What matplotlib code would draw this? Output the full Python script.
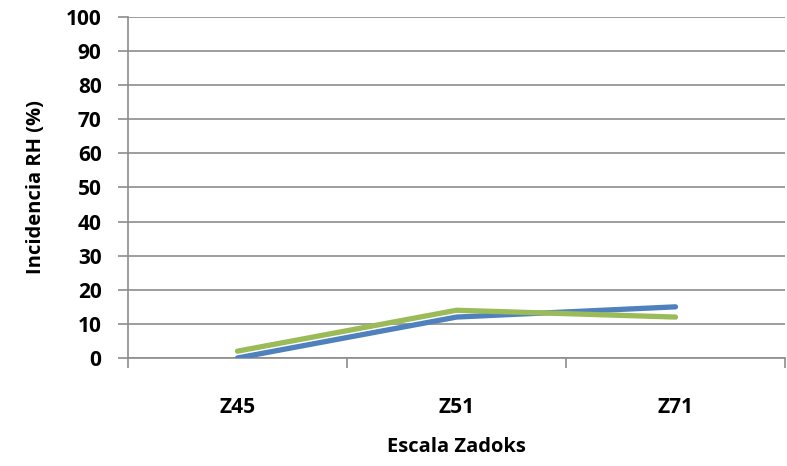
import numpy as np
import matplotlib.pyplot as plt

categories = ["Z45", "Z51", "Z71"]
serie_azul = [0, 12, 15]
serie_verde = [2, 14, 12]

plt.rcParams['font.family'] = ['Open Sans', 'DejaVu Sans']
plt.rcParams['font.weight'] = 'bold'

fig = plt.figure(figsize=(7.87, 4.66), dpi=100)
ax = fig.add_axes([0.1626, 0.2318, 0.8349, 0.7317])

x = np.arange(len(categories))
ax.plot(x, serie_azul, color='#4F81BD', linewidth=3.8, solid_capstyle='round', zorder=3)
ax.plot(x, serie_verde, color='#9BBB59', linewidth=3.8, solid_capstyle='round', zorder=4)

ax.set_xlim(-0.5, len(categories) - 0.5)
ax.set_ylim(0, 100)
ax.set_yticks(range(0, 101, 10))
ax.yaxis.grid(True, color='#8C8C8C', linewidth=1.2)
ax.set_axisbelow(True)

ax.set_xticks(x)
ax.set_xticklabels(categories)
ax.set_xticks(np.arange(-0.5, len(categories)), minor=True)
ax.tick_params(axis='x', which='major', length=0, pad=28, labelsize=15)
ax.tick_params(axis='x', which='minor', length=7, color='#8C8C8C', width=1.2)
ax.tick_params(axis='y', length=7, color='#8C8C8C', width=1.2, labelsize=15, pad=12)

for s in ['top', 'right']:
    ax.spines[s].set_visible(False)
for s in ['left', 'bottom']:
    ax.spines[s].set_color('#8C8C8C')
    ax.spines[s].set_linewidth(1.2)

ax.set_xlabel('Escala Zadoks', fontsize=14.5, fontweight='bold', labelpad=14)
ax.set_ylabel('Incidencia RH (%)', fontsize=14.5, fontweight='bold', labelpad=14)

fig.savefig('out.png', dpi=100)
